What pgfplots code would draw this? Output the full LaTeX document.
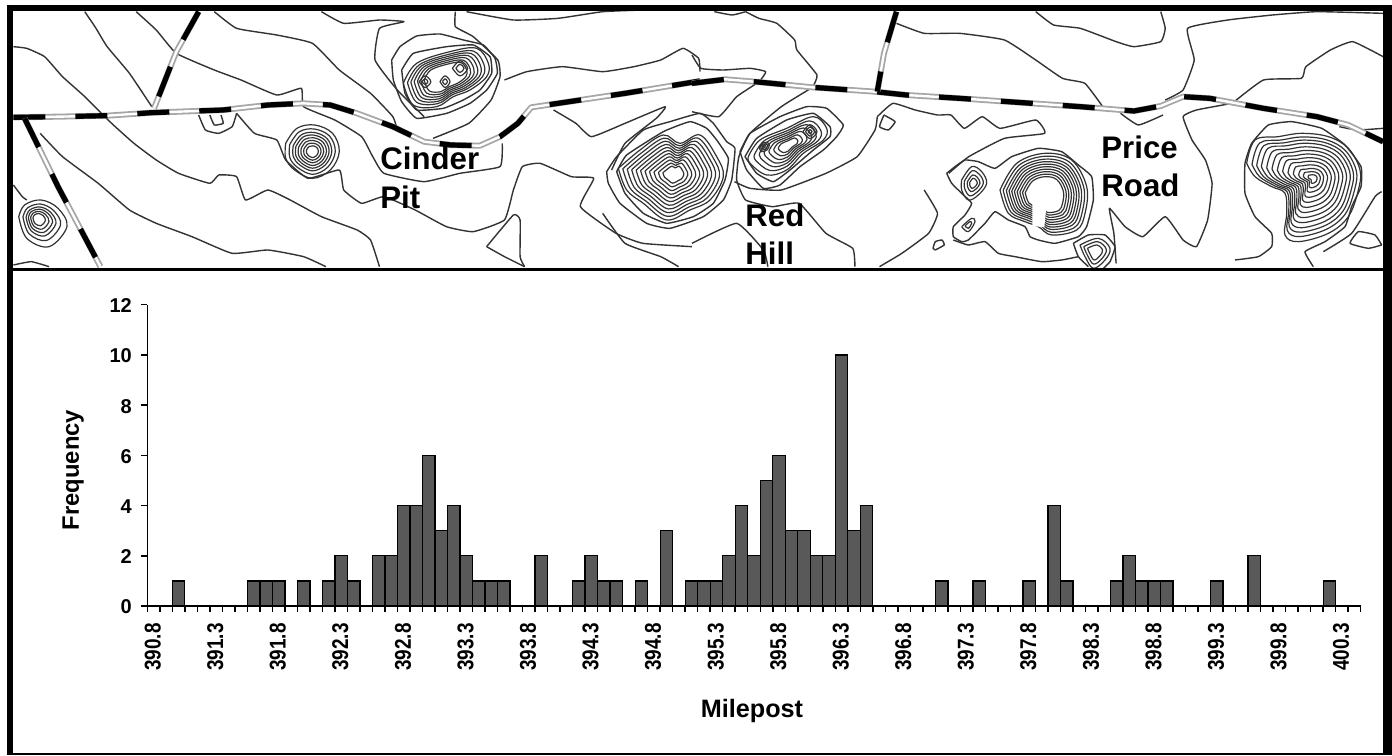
\documentclass[border=0pt]{standalone}
\usepackage{fontspec}
\setmainfont{Liberation Sans}
\usepackage{pgfplots}
\pgfplotsset{compat=1.18}
\definecolor{barfill}{HTML}{595959}
\definecolor{ctrc}{HTML}{333333}
\pgfplotsset{
  mapax/.style={scale only axis,hide axis,clip=false,y dir=reverse,xmin=0,xmax=1568,ymin=0,ymax=840,width=350pt,height=140pt},
  crop/.style n args={6}{scale only axis,hide axis,clip=false,y dir=reverse,xmin=0,xmax=#1,ymin=0,ymax=#2,width=#3pt,height=#4pt,at={(#5pt,#6pt)},anchor=south west},
  ctr/.style={mark=none,draw=ctrc,line width=0.7pt,line join=round,smooth,tension=0.25},
  ring/.style={mark=none,draw=ctrc,line width=0.6pt,line join=round,smooth,tension=0.6},
  rdb/.style={mark=none,draw=gray!70,line width=3pt,line join=round},
  rdw/.style={mark=none,draw=white,line width=1.2pt,line join=round},
  rdk/.style={mark=none,draw=black,line width=2.6pt,dash pattern=on 16pt off 15pt},
}
\newcommand{\hill}[4]{\pgfplotsinvokeforeach{#3}{\addplot[ring] table[row sep=\\,x expr={#1+##1*(\thisrow{x}-#1)},y expr={#2+##1*(\thisrow{y}-#2)}] {x y\\ #4};}}
\newcommand{\road}[1]{\addplot[rdb] coordinates {#1};\addplot[rdw] coordinates {#1};\addplot[rdk] coordinates {#1};}
\begin{document}
\begin{tikzpicture}[x=1pt,y=1pt]
\path[use as bounding box,fill=white] (0,0) rectangle (696,377.5);
% ---- left part of the map
\begin{axis}[mapax,at={(0pt,237.5pt)},anchor=south west]
\addplot[ctr] coordinates {(30,140)(60,145)(100,170)(140,230)(190,290)(250,370)(300,430)(350,480)(400,520)(470,550)(490,525)(530,530)(550,600)(600,570)(650,600)(720,650)(800,690)(830,720)(850,800)};
\addplot[ctr] coordinates {(190,35)(215,85)(240,140)(290,220)(340,320)};
\addplot[ctr] coordinates {(305,35)(350,90)(395,160)(480,210)(540,240)(620,285)(675,265)(680,320)(750,360)(810,410)(835,470)(860,520)(950,545)(1030,520)(1120,500)(1125,430)};
\addplot[ctr] coordinates {(90,400)(140,470)(220,550)(290,630)(350,670)(430,710)(520,760)(600,750)(680,770)(730,800)};
\addplot[ctr] coordinates {(530,340)(570,400)(620,420)(640,480)(690,535)(760,510)(770,570)(810,610)(860,590)(930,630)(1000,680)(1060,695)(1130,660)(1150,570)(1170,500)(1210,490)(1280,530)(1330,535)(1300,620)(1380,700)(1440,730)(1550,740)};
\addplot[ctr] coordinates {(480,35)(530,85)(620,105)(700,130)(760,210)(830,280)(880,350)(890,390)};
\addplot[ctr] coordinates {(720,35)(770,70)(850,60)(905,65)(850,85)(840,180)(890,270)(950,350)};
\addplot[ctr] coordinates {(1020,35)(1020,80)(1060,110)(1115,180)(1120,230)(1100,300)(1050,370)(970,415)};
\addplot[ctr] coordinates {(1045,35)(1150,60)(1250,55)(1350,35)(1440,30)};
\addplot[ctr] coordinates {(1130,240)(1180,215)(1260,200)(1350,215)(1420,200)(1480,180)(1530,145)(1565,175)(1568,215)};
\addplot[ctr] coordinates {(1240,330)(1290,370)(1325,410)(1400,370)(1490,320)(1470,355)(1400,430)(1370,510)};
\addplot[ctr] coordinates {(1090,740)(1150,645)(1165,660)(1165,770)(1175,800)};
\addplot[ctr] coordinates {(1175,800)(1130,770)(1090,740)};
\addplot[ctr] coordinates {(30,555)(50,590)(60,600)};
\addplot[ctr] coordinates {(30,795)(70,785)(110,800)};
\addplot[ctr] coordinates {(1350,640)(1400,730)(1480,770)(1520,800)};
\addplot[ctr] coordinates {(445,345)(460,390)(490,400)(520,380)(530,340)};
\addplot[ctr] coordinates {(470,345)(480,375)(500,370)(495,345)};
\road{(30,352)(130,350)(240,347)(340,338)(500,330)(600,315)(680,310)(740,315)(800,340)(880,380)(950,425)(1010,435)(1075,437)(1120,410)(1160,370)(1190,322)(1300,300)(1400,280)(1500,258)(1568,243)}
\road{(445,35)(395,155)(345,325)}
\road{(55,355)(130,560)(225,800)}
\hill{700}{455}{1,0.85,0.72,0.62,0.52,0.42,0.32,0.22}{640 430\\665 385\\705 375\\745 400\\760 455\\740 510\\700 535\\660 510\\640 475\\640 430\\}
\hill{85}{655}{1,0.78,0.62,0.5,0.38,0.26}{42 650\\55 615\\92 600\\130 625\\150 680\\110 740\\60 715\\42 650\\}
\end{axis}
% ---- right part of the map
\begin{axis}[mapax,at={(346pt,237.5pt)},anchor=south west]
\addplot[ctr] coordinates {(120,35)(150,55)(190,70)(230,120)(235,150)(280,225)(270,262)};
\addplot[ctr] coordinates {(0,165)(20,205)(70,210)(130,205)(165,215)(150,245)(100,290)(60,350)(0,335)};
\addplot[ctr] coordinates {(458,70)(520,100)(600,100)(700,120)(770,180)(830,235)(880,250)(920,320)};
\addplot[ctr] coordinates {(770,35)(810,75)(870,85)(950,125)(990,140)(1050,125)(1060,85)(1050,35)};
\addplot[ctr] coordinates {(1060,300)(1100,270)(1125,180)(1110,85)(1200,60)(1300,45)(1400,35)(1548,40)};
\addplot[ctr] coordinates {(1548,170)(1480,125)(1430,150)(1375,200)(1365,235)(1280,240)(1210,310)};
\addplot[ctr] coordinates {(960,340)(1000,375)(1055,345)};
\addplot[ctr] coordinates {(1210,310)(1130,330)(1100,350)(1120,420)(1150,480)(1165,550)(1155,660)(1130,740)(1100,720)(1060,650)(1010,710)(970,680)(935,625)(945,700)(950,790)};
\addplot[ctr] coordinates {(415,350)(450,310)(500,330)(550,345)(580,345)(610,385)(650,350)(690,385)(770,360)(790,400)(700,415)(620,470)(575,520)};
\addplot[ctr] coordinates {(415,350)(410,390)(370,470)(300,520)(200,570)(130,565)(95,545)};
\addplot[ctr] coordinates {(270,262)(200,320)(130,400)(105,470)(100,540)(120,600)(180,620)(240,610)(300,700)(360,745)(365,800)};
\addplot[ctr] coordinates {(430,345)(455,365)(440,390)(420,380)(430,345)};
\addplot[ctr] coordinates {(520,570)(550,640)(530,700)(470,760)(420,800)};
\addplot[ctr] coordinates {(0,730)(100,670)(160,750)(170,800)};
\addplot[ctr] coordinates {(545,750)(565,735)(560,720)(545,725)(540,745)(545,750)};
\addplot[ctr] coordinates {(1450,380)(1490,390)(1548,385)};
\addplot[ctr] coordinates {(50,35)(90,45)(120,35)};
\road{(0,250)(75,238)(140,245)(270,262)(410,275)(480,285)(600,295)(740,308)(870,320)(990,333)(1050,318)(1100,290)(1160,295)(1280,325)(1400,350)(1470,375)(1548,425)}
\road{(458,35)(430,160)(415,275)}
\end{axis}
% ---- hill on the top
\begin{axis}[crop={390}{330}{65}{55}{190}{312.5}]
\addplot[ctr] coordinates {(35,120)(60,80)(110,48)(180,42)(250,60)(310,75)(345,115)(352,160)(320,210)(270,250)(200,280)(110,295)(65,245)(40,180)(35,120)};
\addplot[ctr] coordinates {(65,150)(100,100)(200,80)(280,75)(330,110)(335,160)(300,210)(250,240)(190,265)(110,270)(75,220)(65,150)};
\hill{195}{170}{1,0.9,0.82,0.74,0.66,0.58,0.5}{70 190\\110 130\\210 95\\290 85\\325 130\\320 170\\270 210\\220 230\\170 260\\100 255\\70 190\\}
\hill{135}{185}{0.5,0.25}{100 185\\135 150\\170 185\\135 220\\100 185\\}
\hill{195}{185}{0.5,0.25}{165 185\\195 150\\225 185\\195 220\\165 185\\}
\hill{240}{145}{0.65,0.35}{205 145\\240 110\\275 145\\240 180\\205 145\\}
\end{axis}
% ---- big hill and its neighbour
\begin{axis}[crop={780}{420}{130}{70}{300}{257.5}]
\addplot[ctr] coordinates {(20,215)(50,170)(130,90)(210,65)(300,40)(340,70)(380,125)(405,145)(395,240)(370,300)(310,350)(210,385)(140,370)(60,310)(25,250)(20,215)};
\addplot[ctr] coordinates {(50,215)(80,165)(190,95)(270,65)(320,85)(350,120)(385,175)(375,240)(340,310)(280,350)(200,370)(130,340)(75,280)(50,215)};
\hill{222}{222}{1,0.92,0.84,0.76,0.68,0.6,0.52,0.44,0.36,0.28,0.2}{55 205\\120 150\\190 105\\240 130\\300 105\\350 170\\370 230\\330 300\\270 330\\200 360\\130 310\\80 270\\55 205\\}
\addplot[ctr] coordinates {(420,155)(450,100)(540,50)(620,20)(680,25)(730,75)(710,110)(670,150)(600,200)(540,255)(490,265)(440,210)(420,155)};
\addplot[ctr] coordinates {(435,170)(470,115)(560,60)(640,40)(690,80)(690,110)(640,150)(570,210)(520,245)(470,220)(435,170)};
\hill{565}{135}{1,0.85,0.72,0.6,0.48,0.36,0.25}{445 170\\480 120\\560 85\\640 50\\680 85\\670 120\\610 160\\560 210\\500 225\\450 190\\445 170\\}
\hill{490}{140}{0.6,0.4,0.2}{470 140\\490 120\\520 125\\510 155\\480 165\\470 140\\}
\hill{630}{95}{0.7,0.45,0.2}{600 95\\630 65\\660 95\\630 125\\600 95\\}
\end{axis}
% ---- horseshoe hill
\begin{axis}[crop={540}{390}{90}{65}{472.5}{242.5}]
\addplot[ctr] coordinates {(5,100)(30,80)(60,60)(100,65)(150,85)(200,50)(280,25)(350,35)(400,75)(440,110)(445,180)(425,260)(400,290)(330,310)(280,300)(255,290)(240,260)(190,240)(150,215)(120,250)(70,300)(50,305)(25,290)(25,260)(60,225)(80,190)(50,160)(20,130)(5,100)};
\addplot[ctr] coordinates {(25,300)(70,315)(120,305)(160,340)(210,350)(290,365)(350,360)(400,350)};
\hill{300}{165}{1,0.93,0.86,0.8,0.74,0.68,0.62,0.56,0.5,0.44}{165 150\\215 70\\300 40\\380 60\\425 140\\420 220\\395 270\\320 285\\280 260\\240 245\\190 220\\165 150\\}
\addplot[fill=white,draw=none,mark=none] coordinates {(262,170)(305,190)(298,262)(262,258)} --cycle;
\hill{85}{130}{1,0.75,0.5,0.3}{50 120\\80 80\\110 95\\125 130\\100 165\\70 180\\50 150\\50 120\\}
\hill{70}{255}{1,0.5}{50 260\\80 235\\90 245\\70 275\\50 260\\}
\addplot[ctr] coordinates {(385,310)(430,285)(480,285)(510,320)(495,365)(470,390)};
\addplot[ctr] coordinates {(385,310)(400,350)(430,380)};
\hill{450}{335}{1,0.75,0.5}{405 315\\460 295\\495 325\\480 360\\445 385\\420 350\\405 315\\}
\end{axis}
% ---- right-hand hill
\begin{axis}[crop={450}{450}{75}{75}{617.5}{242.5}]
\addplot[ctr] coordinates {(0,420)(70,410)(110,380)(110,340)(60,290)(30,220)(30,130)(50,70)(100,15)(170,5)(260,25)(330,75)(378,140)(378,200)(350,260)(330,320)(270,365)(210,395)(235,440)};
\addplot[ctr] coordinates {(265,395)(350,340)(420,230)(440,215)};
\addplot[ctr] coordinates {(440,375)(400,385)(345,370)(370,335)(420,345)(440,375)};
\hill{235}{175}{1,0.92,0.85,0.78,0.7,0.62,0.54,0.46,0.38,0.3,0.22,0.15,0.08}{35 130\\60 60\\130 50\\200 40\\280 50\\340 85\\375 150\\370 210\\340 290\\280 340\\190 365\\150 345\\155 280\\150 220\\110 200\\60 170\\35 130\\}
\end{axis}
% ---- frame and map labels, in pixels of the picture
\begin{axis}[scale only axis,hide axis,clip=false,y dir=reverse,xmin=0,xmax=1392,ymin=0,ymax=755,width=696pt,height=377.5pt,at={(0pt,0pt)},anchor=south west]
\addplot[fill=black,draw=none,mark=none] coordinates {(6.7,5)(1392,5)(1392,11)(6.7,11)} --cycle;
\addplot[fill=black,draw=none,mark=none] coordinates {(6.7,5)(13,5)(13,755)(6.7,755)} --cycle;
\addplot[fill=black,draw=none,mark=none] coordinates {(1383,5)(1392,5)(1392,755)(1383,755)} --cycle;
\addplot[fill=black,draw=none,mark=none] coordinates {(6.7,752.5)(1392,752.5)(1392,755)(6.7,755)} --cycle;
\addplot[fill=black,draw=none,mark=none] coordinates {(6.7,268)(1392,268)(1392,270.5)(6.7,270.5)} --cycle;
\node[anchor=west,font=\fontsize{15.6}{17}\selectfont\bfseries,inner sep=0pt] at (axis cs:380,158) {Cinder};
\node[anchor=west,font=\fontsize{15.6}{17}\selectfont\bfseries,inner sep=0pt] at (axis cs:380,197) {Pit};
\node[anchor=west,font=\fontsize{15.6}{17}\selectfont\bfseries,inner sep=0pt] at (axis cs:745,215) {Red};
\node[anchor=west,font=\fontsize{15.6}{17}\selectfont\bfseries,inner sep=0pt] at (axis cs:745,253) {Hill};
\node[anchor=west,font=\fontsize{15.6}{17}\selectfont\bfseries,inner sep=0pt] at (axis cs:1101,147) {Price};
\node[anchor=west,font=\fontsize{15.6}{17}\selectfont\bfseries,inner sep=0pt] at (axis cs:1101,185) {Road};
\end{axis}
% ---- histogram
\begin{axis}[
  scale only axis,width=606.7pt,height=150.65pt,
  at={(73.65pt,74.5pt)},anchor=south west,
  axis x line*=bottom,axis y line*=left,
  axis line style={line width=0.75pt,black,-},
  xmin=390.75,xmax=400.45,ymin=0,ymax=12,
  ybar,bar width=0.1,bar shift=0pt,
  tick align=outside,
  major tick length=3.2pt,minor tick length=3.2pt,
  every tick/.style={line width=0.75pt,black},
  minor tick style={line width=0.75pt,black},
  ytick={0,2,4,6,8,10,12},
  xtick={390.8,391.3,391.8,392.3,392.8,393.3,393.8,394.3,394.8,395.3,395.8,396.3,396.8,397.3,397.8,398.3,398.8,399.3,399.8,400.3},
  xticklabels={390.8,391.3,391.8,392.3,392.8,393.3,393.8,394.3,394.8,395.3,395.8,396.3,396.8,397.3,397.8,398.3,398.8,399.3,399.8,400.3},
  major x tick style={draw=none},
  minor xtick={390.75,390.85,390.95,391.05,391.15,391.25,391.35,391.45,391.55,391.65,391.75,391.85,391.95,392.05,392.15,392.25,392.35,392.45,392.55,392.65,392.75,392.85,392.95,393.05,393.15,393.25,393.35,393.45,393.55,393.65,393.75,393.85,393.95,394.05,394.15,394.25,394.35,394.45,394.55,394.65,394.75,394.85,394.95,395.05,395.15,395.25,395.35,395.45,395.55,395.65,395.75,395.85,395.95,396.05,396.15,396.25,396.35,396.45,396.55,396.65,396.75,396.85,396.95,397.05,397.15,397.25,397.35,397.45,397.55,397.65,397.75,397.85,397.95,398.05,398.15,398.25,398.35,398.45,398.55,398.65,398.75,398.85,398.95,399.05,399.15,399.25,399.35,399.45,399.55,399.65,399.75,399.85,399.95,400.05,400.15,400.25,400.35,400.45},
  xticklabel style={xshift=-0.4pt,yshift=-3.6pt,rotate=90,xscale=0.83,anchor=east,font=\fontsize{11.4}{12}\selectfont\bfseries,inner xsep=2pt},
  yticklabel style={font=\fontsize{10}{12}\selectfont\bfseries,xshift=-1pt,yshift=-0.5pt},
  /pgf/number format/assume math mode=true,
  xlabel={Milepost},ylabel={Frequency},
  xlabel style={at={(axis description cs:0.4983,-0.3485)},anchor=center,font=\fontsize{12.6}{14}\selectfont\bfseries},
  ylabel style={at={(axis description cs:-0.0612,0.4514)},anchor=center,font=\fontsize{11.9}{14}\selectfont\bfseries},
]
\addplot[fill=barfill,draw=black,line width=0.65pt] coordinates {
(391.0,1)(391.6,1)(391.7,1)(391.8,1)(392.0,1)(392.2,1)(392.3,2)(392.4,1)(392.6,2)(392.7,2)(392.8,4)(392.9,4)(393.0,6)(393.1,3)(393.2,4)(393.3,2)(393.4,1)(393.5,1)(393.6,1)(393.9,2)(394.2,1)(394.3,2)(394.4,1)(394.5,1)(394.7,1)(394.9,3)(395.1,1)(395.2,1)(395.3,1)(395.4,2)(395.5,4)(395.6,2)(395.7,5)(395.8,6)(395.9,3)(396.0,3)(396.1,2)(396.2,2)(396.3,10)(396.4,3)(396.5,4)(397.1,1)(397.4,1)(397.8,1)(398.0,4)(398.1,1)(398.5,1)(398.6,2)(398.7,1)(398.8,1)(398.9,1)(399.3,1)(399.6,2)(400.2,1)};
\end{axis}
\end{tikzpicture}
\end{document}
